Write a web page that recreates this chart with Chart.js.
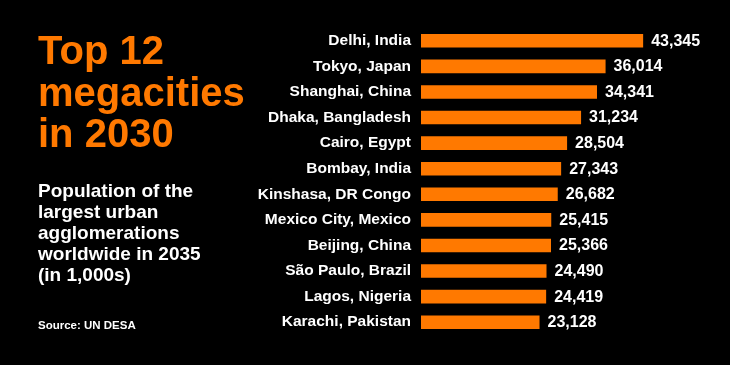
<!DOCTYPE html>
<html>
<head>
<meta charset="utf-8">
<script src="https://cdn.jsdelivr.net/npm/chart.js@4"></script>
<style>
  html, body { margin: 0; padding: 0; background: #000; }
  #wrap { position: relative; width: 730px; height: 365px; background: #000; overflow: hidden; }
  #wrap canvas { position: absolute; left: 0; top: 0; }
  .txt { position: absolute; left: 38px; font-family: "Liberation Sans", Arial, sans-serif; font-weight: bold; white-space: nowrap; }
  #title { top: 30px; font-size: 40px; line-height: 41.5px; color: #ff7900; }
  #sub { top: 180px; font-size: 19px; line-height: 21px; color: #fff; }
  #source { top: 318px; font-size: 11.5px; line-height: 14px; color: #fff; }
</style>
</head>
<body>
<div id="wrap">
  <canvas id="megaChart" width="730" height="365"></canvas>
  <div class="txt" id="title">Top 12<br>megacities<br>in 2030</div>
  <div class="txt" id="sub">Population of the<br>largest urban<br>agglomerations<br>worldwide in 2035<br>(in 1,000s)</div>
  <div class="txt" id="source">Source: UN DESA</div>
</div>
<script>
// population in 1,000s
const cities = [
  "Delhi, India", "Tokyo, Japan", "Shanghai, China", "Dhaka, Bangladesh",
  "Cairo, Egypt", "Bombay, India", "Kinshasa, DR Congo", "Mexico City, Mexico",
  "Beijing, China", "São Paulo, Brazil", "Lagos, Nigeria", "Karachi, Pakistan"
];
const population = [43345, 36014, 34341, 31234, 28504, 27343, 26682, 25415, 25366, 24490, 24419, 23128];

const ORANGE = "#ff7900";
const FONT = "'Liberation Sans', Arial, sans-serif";

// draws the number to the right of each bar
const valueLabels = {
  id: "valueLabels",
  afterDatasetsDraw(chart) {
    const ctx = chart.ctx;
    const meta = chart.getDatasetMeta(0);
    ctx.save();
    ctx.font = "bold 16px " + FONT;
    ctx.fillStyle = "#fff";
    ctx.textAlign = "left";
    ctx.textBaseline = "middle";
    meta.data.forEach((bar, i) => {
      ctx.fillText(population[i].toLocaleString("en-US"), bar.x + 8, bar.y + 0.5);
    });
    ctx.restore();
  }
};

const ctx = document.getElementById("megaChart").getContext("2d");
const chart = new Chart(ctx, {
  type: "bar",
  data: {
    labels: cities,
    datasets: [{
      data: population,
      backgroundColor: ORANGE,
      borderWidth: 0,
      barPercentage: 0.53,
      categoryPercentage: 1
    }]
  },
  options: {
    indexAxis: "y",
    responsive: false,
    animation: false,
    devicePixelRatio: 1,
    layout: { padding: { top: 28, bottom: 30, left: 0, right: 22 } },
    plugins: {
      legend: { display: false },
      tooltip: { enabled: false }
    },
    scales: {
      x: {
        display: false,
        min: 0,
        max: 56000
      },
      y: {
        afterFit(scale) { scale.width = 421; },
        grid: { display: false, drawTicks: false },
        border: { display: false },
        ticks: {
          color: "#fff",
          padding: 10,
          font: { family: FONT, size: 15.5, weight: "bold" }
        }
      }
    }
  },
  plugins: [valueLabels]
});
</script>
</body>
</html>
